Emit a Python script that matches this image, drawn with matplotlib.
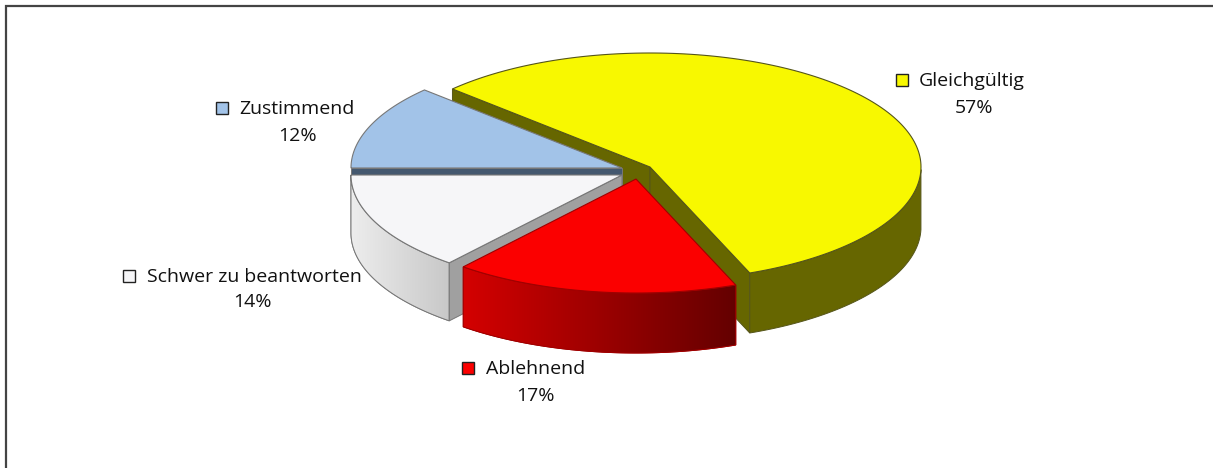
import numpy as np
import matplotlib
matplotlib.use("Agg")
import matplotlib.pyplot as plt
from matplotlib.patches import Polygon, Rectangle
from matplotlib.colors import LinearSegmentedColormap

# clockwise from the upper left cut
categories = ['Gleichgültig', 'Ablehnend', 'Schwer zu beantworten', 'Zustimmend']
shares = [57, 17, 14, 12]

top_colors = ['#f8f800', '#fb0000', '#f6f6f8', '#a2c3e8']
cut_colors = ['#666600', '#990000', '#a0a0a0', '#44586f']
edge_colors = ['#55551a', '#a00000', '#777777', '#777777']

# apex of each exploded slice in pixels
apex_x = [650, 636, 622, 622]
apex_y = [167, 179, 175, 168]
depths = [60, 60, 58, 58]
rx, ry = 271, 114

# label anchors in pixels: marker left, marker mid y, text left, pct centre, pct y
label_pos = {
    'Gleichgültig': (896, 80, 919, 974, 108),
    'Ablehnend': (462, 368, 486, 535, 396),
    'Schwer zu beantworten': (123, 276, 147, 252, 302),
    'Zustimmend': (216, 108, 239, 297, 136),
}

plt.rcParams['font.family'] = ['Open Sans', 'DejaVu Sans']

fig = plt.figure(figsize=(12.13, 4.68), dpi=100)
ax = fig.add_axes([0, 0, 1, 1])
ax.set_xlim(0, 1213)
ax.set_ylim(468, 0)
ax.axis('off')

# angles in degrees, going clockwise and ending on the left horizontal
start = 180 - shares[-1] / sum(shares) * 360
sweeps = [s / sum(shares) * 360 for s in shares]
a0 = [start - sum(sweeps[:i]) for i in range(4)]
a1 = [a - s for a, s in zip(a0, sweeps)]


def rim(i):
    t = np.radians(np.linspace(a0[i], a1[i], 160))
    return apex_x[i] + rx * np.cos(t), apex_y[i] - ry * np.sin(t)


def draw_cut(i, x_end, y_end, color):
    pts = [(apex_x[i], apex_y[i]), (x_end, y_end),
           (x_end, y_end + depths[i]), (apex_x[i], apex_y[i] + depths[i])]
    ax.add_patch(Polygon(pts, closed=True, fc=color, ec=edge_colors[i], lw=0.7))


def draw_side(i, cmap_colors):
    x, y = rim(i)
    front = y - apex_y[i] >= 0
    xs, ys = x[front], y[front]
    pts = np.vstack([np.c_[xs, ys], np.c_[xs[::-1], ys[::-1] + depths[i]]])
    patch = Polygon(pts, closed=True, fc=cmap_colors[0], ec=edge_colors[i], lw=0.7)
    ax.add_patch(patch)
    if len(cmap_colors) > 1:
        cmap = LinearSegmentedColormap.from_list('side', cmap_colors)
        grad = np.linspace(0, 1, 256).reshape(1, -1)
        im = ax.imshow(grad, cmap=cmap, aspect='auto',
                       extent=[xs.min(), xs.max(), 468, 0], zorder=patch.get_zorder())
        im.set_clip_path(patch)
        ax.add_patch(Polygon(pts, closed=True, fill=False, ec=edge_colors[i], lw=0.7))
        ax.set_xlim(0, 1213)
        ax.set_ylim(468, 0)


def draw_top(i):
    x, y = rim(i)
    pts = np.vstack([[apex_x[i], apex_y[i]], np.c_[x, y]])
    ax.add_patch(Polygon(pts, closed=True, fc=top_colors[i], ec=edge_colors[i], lw=0.8))


# back to front
x, y = rim(0)
draw_cut(0, x[0], y[0], cut_colors[0])
draw_cut(0, x[-1], y[-1], cut_colors[0])
draw_side(0, ['#666600'])
draw_top(0)

x, y = rim(3)
draw_cut(3, x[0], y[0], cut_colors[3])
draw_top(3)

x, y = rim(2)
draw_side(2, ['#ededed', '#c8c8c8'])
draw_cut(2, x[0], y[0], cut_colors[2])
draw_top(2)

draw_side(1, ['#d40000', '#640000'])
draw_top(1)

# labels
for i, name in enumerate(categories):
    mx, my, tx, px, py = label_pos[name]
    ax.add_patch(Rectangle((mx, my - 6), 12, 12, fc=top_colors[i], ec='#222222', lw=1))
    ax.text(tx, my + 1, name, fontsize=14, color='#111111', ha='left', va='center')
    ax.text(px, py, f'{shares[i]}%', fontsize=14, color='#111111', ha='center', va='center')

# frame, open to the right and below
ax.plot([6, 6, 1213], [468, 6, 6], color='#444444', lw=1.6, solid_joinstyle='miter')

fig.savefig('out.png', dpi=100)
